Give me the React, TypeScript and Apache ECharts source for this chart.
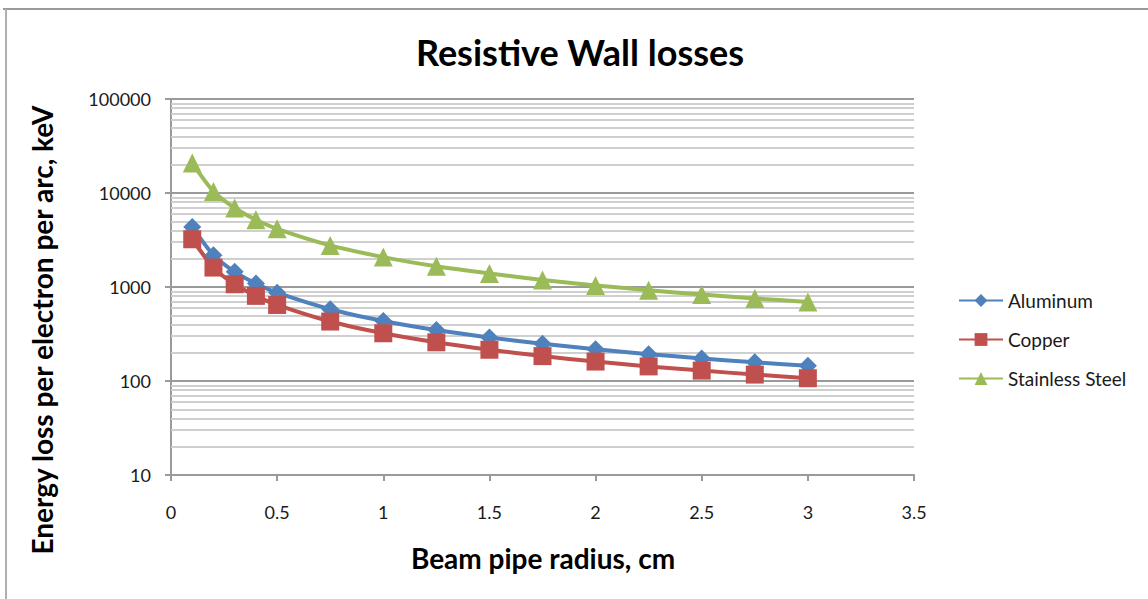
import React, { useEffect, useRef } from "react";
import * as echarts from "echarts";

// Beam pipe radius (cm)
const radius = [0.1, 0.2, 0.3, 0.4, 0.5, 0.75, 1, 1.25, 1.5, 1.75, 2, 2.25, 2.5, 2.75, 3];
// Energy loss per electron per arc (keV)
const aluminum = [4350, 2180, 1450, 1090, 870, 580, 435, 348, 290, 249, 218, 193, 174, 158, 145];
const copper = [3220, 1610, 1070, 805, 644, 429, 322, 258, 215, 184, 161, 143, 129, 117, 107];
const stainless = [20800, 10400, 6930, 5200, 4160, 2770, 2080, 1660, 1390, 1190, 1040, 925, 832, 756, 693];

// Minor log grid lines between decades
const minorGrid = [
  20, 30, 40, 50, 60, 70, 80, 90,
  200, 300, 400, 500, 600, 700, 800, 900,
  2000, 3000, 4000, 5000, 6000, 7000, 8000, 9000,
  20000, 30000, 40000, 50000, 60000, 70000, 80000, 90000,
];

const FONT = "Lato, 'Open Sans', sans-serif";

const pairs = (ys: number[]) => radius.map((x, i) => [x, ys[i]]);

export default function App() {
  const ref = useRef<HTMLDivElement>(null);

  useEffect(() => {
    if (!ref.current) return;
    const chart = echarts.init(ref.current, undefined, { renderer: "svg" });

    const lineSeries = (name: string, ys: number[], color: string, symbol: string, size: number) => ({
      name,
      type: "line",
      data: pairs(ys),
      smooth: 0.25,
      symbol,
      symbolSize: size,
      z: 3,
      lineStyle: { color, width: 4 },
      itemStyle: { color },
    });

    chart.setOption({
      animation: false,
      backgroundColor: "#ffffff",
      textStyle: { fontFamily: FONT },
      grid: { left: 171, right: 234, top: 99, bottom: 124 },
      xAxis: {
        type: "value",
        min: 0,
        max: 3.5,
        interval: 0.5,
        axisLine: { show: true, lineStyle: { color: "#9a9a9a", width: 2 } },
        axisTick: { show: true, length: 6, lineStyle: { color: "#9a9a9a", width: 2 } },
        axisLabel: { color: "#1a1a1a", fontSize: 18, fontFamily: FONT, margin: 28 },
        splitLine: { show: false },
      },
      yAxis: {
        type: "log",
        logBase: 10,
        min: 10,
        max: 100000,
        axisLine: { show: true, lineStyle: { color: "#9a9a9a", width: 2 } },
        axisTick: { show: true, length: 6, lineStyle: { color: "#9a9a9a", width: 2 } },
        axisLabel: {
          color: "#1a1a1a",
          fontSize: 18,
          fontFamily: FONT,
          margin: 20,
          formatter: (v: number) => String(Math.round(v)),
        },
        splitLine: { show: true, lineStyle: { color: "#9a9a9a", width: 2 } },
      },
      legend: {
        orient: "vertical",
        left: 953,
        top: 286,
        itemWidth: 44,
        itemHeight: 16,
        itemGap: 20,
        textStyle: { color: "#1a1a1a", fontSize: 19, fontFamily: FONT },
        data: ["Aluminum", "Copper", "Stainless Steel"],
      },
      graphic: [
        { type: "line", shape: { x1: 3, y1: 9, x2: 1148, y2: 9 }, style: { stroke: "#9a9a9a", lineWidth: 2 } },
        { type: "line", shape: { x1: 6, y1: 9, x2: 6, y2: 599 }, style: { stroke: "#b0b0b0", lineWidth: 2 } },
        {
          type: "text",
          x: 580,
          y: 52,
          style: {
            text: "Resistive Wall losses",
            font: `bold 36px ${FONT}`,
            fill: "#000",
            textAlign: "center",
            textVerticalAlign: "middle",
          },
        },
        {
          type: "text",
          x: 543,
          y: 558,
          style: {
            text: "Beam pipe radius, cm",
            font: `bold 28px ${FONT}`,
            fill: "#000",
            textAlign: "center",
            textVerticalAlign: "middle",
          },
        },
        {
          type: "text",
          x: 42,
          y: 330,
          rotation: Math.PI / 2,
          style: {
            text: "Energy loss per electron per arc, keV",
            font: `bold 28px ${FONT}`,
            fill: "#000",
            textAlign: "center",
            textVerticalAlign: "middle",
          },
        },
      ],
      series: [
        {
          name: "minor-grid",
          type: "line",
          data: [],
          silent: true,
          z: 1,
          markLine: {
            silent: true,
            z: 1,
            symbol: "none",
            animation: false,
            label: { show: false },
            lineStyle: { color: "#cfcfcf", width: 2, type: "solid" },
            data: minorGrid.map((v) => ({ yAxis: v })),
          },
        },
        lineSeries("Aluminum", aluminum, "#4f81bd", "diamond", 18),
        lineSeries("Copper", copper, "#c0504d", "rect", 18),
        lineSeries("Stainless Steel", stainless, "#9bbb59", "triangle", 19),
      ],
    });

    return () => chart.dispose();
  }, []);

  return (
    <div
      ref={ref}
      style={{ position: "fixed", left: 0, top: 0, width: 1148, height: 599, background: "#fff" }}
    />
  );
}
